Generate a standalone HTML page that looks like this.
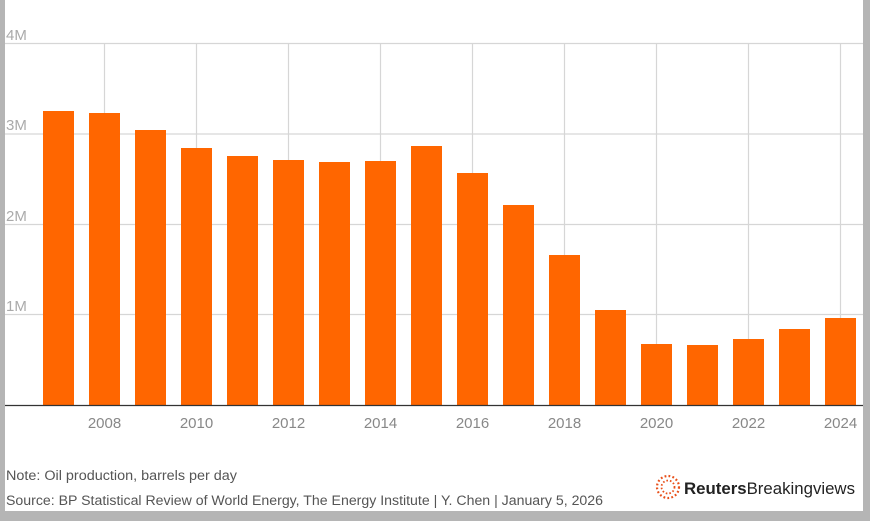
<!DOCTYPE html>
<html><head><meta charset="utf-8"><style>
html,body{margin:0;padding:0;background:#b5b5b5;}
svg{display:block;}
</style></head><body>
<svg width="870" height="521" xmlns="http://www.w3.org/2000/svg" font-family="Liberation Sans, sans-serif">
<rect x="0" y="0" width="870" height="521" fill="#b5b5b5"/>
<rect x="5" y="0" width="858" height="511" fill="#ffffff"/>
<g stroke="#d6d6d6" stroke-width="1.2">
<line x1="5" y1="43.5" x2="863" y2="43.5"/>
<line x1="5" y1="134" x2="863" y2="134"/>
<line x1="5" y1="224.5" x2="863" y2="224.5"/>
<line x1="5" y1="314.5" x2="863" y2="314.5"/>
<line x1="104.5" y1="43" x2="104.5" y2="405"/>
<line x1="196.5" y1="43" x2="196.5" y2="405"/>
<line x1="288.5" y1="43" x2="288.5" y2="405"/>
<line x1="380.5" y1="43" x2="380.5" y2="405"/>
<line x1="472.5" y1="43" x2="472.5" y2="405"/>
<line x1="564.5" y1="43" x2="564.5" y2="405"/>
<line x1="656.5" y1="43" x2="656.5" y2="405"/>
<line x1="748.5" y1="43" x2="748.5" y2="405"/>
<line x1="840.5" y1="43" x2="840.5" y2="405"/>
</g>
<g fill="#aaaaaa" font-size="15">
<text x="6" y="40">4M</text>
<text x="6" y="130">3M</text>
<text x="6" y="221">2M</text>
<text x="6" y="311">1M</text>
</g>
<g fill="#ff6600">
<rect x="43" y="111" width="31" height="294"/>
<rect x="89" y="113" width="31" height="292"/>
<rect x="135" y="130" width="31" height="275"/>
<rect x="181" y="148" width="31" height="257"/>
<rect x="227" y="156" width="31" height="249"/>
<rect x="273" y="160" width="31" height="245"/>
<rect x="319" y="162" width="31" height="243"/>
<rect x="365" y="161" width="31" height="244"/>
<rect x="411" y="146" width="31" height="259"/>
<rect x="457" y="173" width="31" height="232"/>
<rect x="503" y="205" width="31" height="200"/>
<rect x="549" y="255" width="31" height="150"/>
<rect x="595" y="310" width="31" height="95"/>
<rect x="641" y="344" width="31" height="61"/>
<rect x="687" y="345" width="31" height="60"/>
<rect x="733" y="339" width="31" height="66"/>
<rect x="779" y="329" width="31" height="76"/>
<rect x="825" y="318" width="31" height="87"/>
</g>
<line x1="5" y1="405.5" x2="863" y2="405.5" stroke="#333" stroke-width="1.3"/>
<g fill="#888" font-size="15" text-anchor="middle">
<text x="104.5" y="428">2008</text>
<text x="196.5" y="428">2010</text>
<text x="288.5" y="428">2012</text>
<text x="380.5" y="428">2014</text>
<text x="472.5" y="428">2016</text>
<text x="564.5" y="428">2018</text>
<text x="656.5" y="428">2020</text>
<text x="748.5" y="428">2022</text>
<text x="840.5" y="428">2024</text>
</g>
<g fill="#555" font-size="14.2">
<text x="6" y="480" textLength="231" lengthAdjust="spacingAndGlyphs">Note: Oil production, barrels per day</text>
<text x="6" y="505" textLength="597" lengthAdjust="spacingAndGlyphs">Source: BP Statistical Review of World Energy, The Energy Institute | Y. Chen | January 5, 2026</text>
</g>
<g fill="#e8501a">
<circle cx="668" cy="487" r="11" fill="none" stroke="#e8501a" stroke-width="2.2" stroke-dasharray="1.8 2.2"/>
<circle cx="668" cy="487" r="6.5" fill="none" stroke="#e8501a" stroke-width="1.8" stroke-dasharray="1.6 2"/>
</g>
<text x="684" y="494" font-size="17" fill="#222" textLength="171" lengthAdjust="spacingAndGlyphs"><tspan font-weight="bold">Reuters</tspan>Breakingviews</text>
</svg>
</body></html>
